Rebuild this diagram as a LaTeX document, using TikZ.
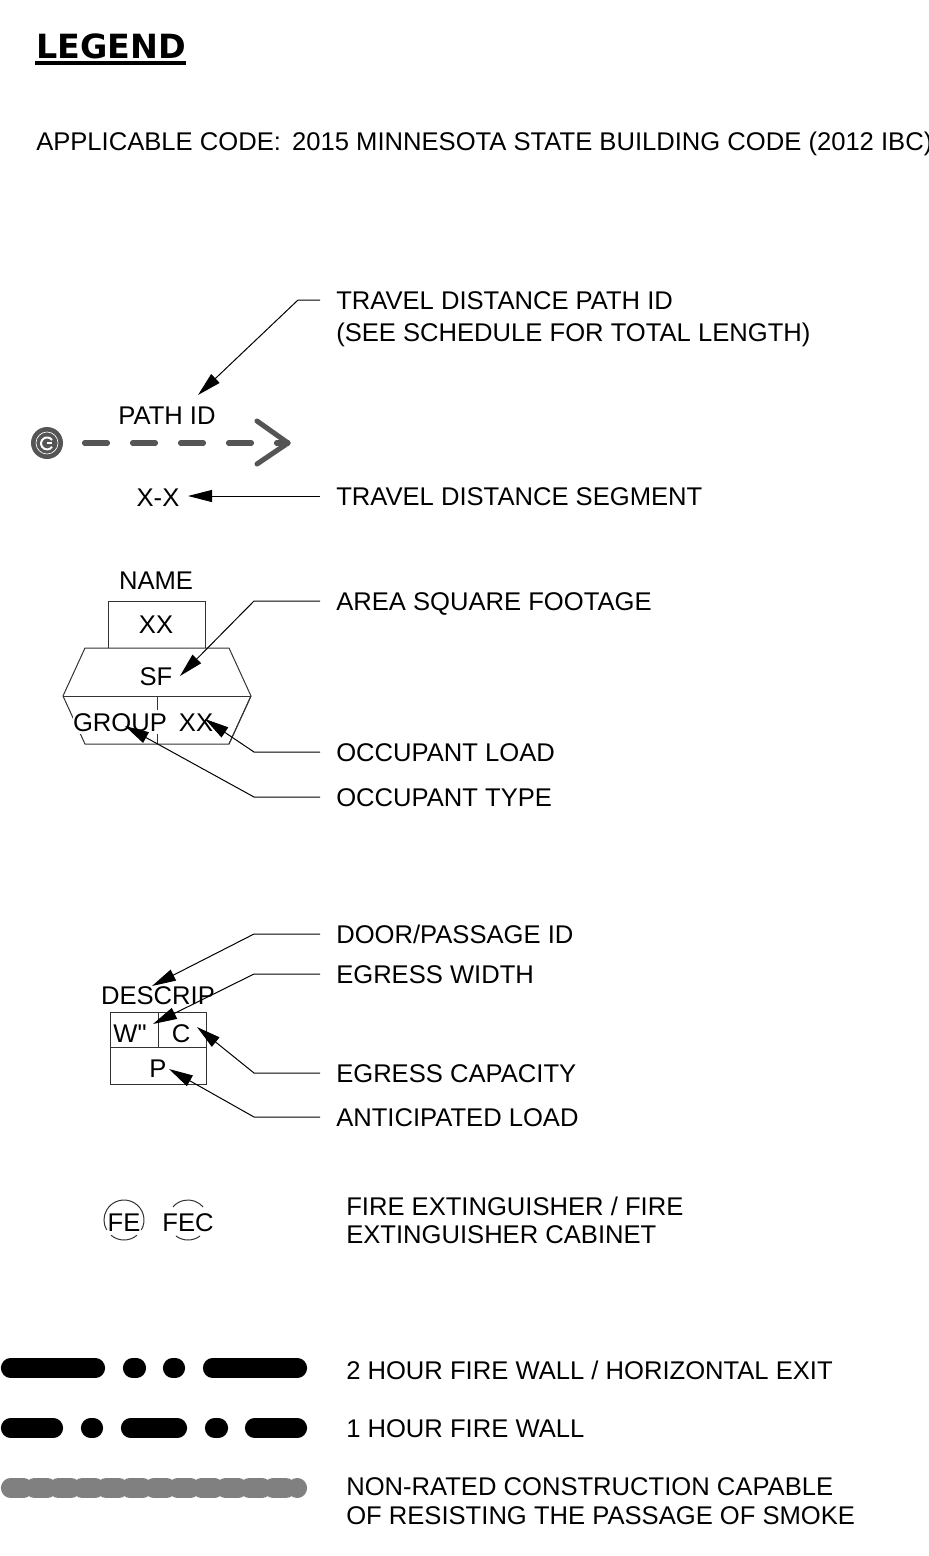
\documentclass[tikz,border=0pt]{standalone}
\usepackage{fontspec}
\newfontfamily\labelfont{Liberation Sans}
\newfontfamily\titlefont{DejaVu Sans Bold}
\usetikzlibrary{arrows.meta, positioning, calc}
\definecolor{pathgray}{HTML}{555555}
\definecolor{smokegray}{HTML}{808080}

\begin{document}
\begin{tikzpicture}[
    x=0.75pt, y=0.75pt,
    txt/.style={inner sep=0pt, text height=13.8pt, text depth=0pt, font=\labelfont\fontsize{19.2pt}{21.6pt}\selectfont},
    legendlabel/.style={txt, anchor=west, inner xsep=12pt},
    plainlabel/.style={txt, anchor=west},
    leader/.style={-{Stealth[length=18pt, width=9pt, inset=0pt]}, line width=0.75pt},
    symline/.style={line width=0.75pt, black!80},
    travelpath/.style={pathgray, line width=3.8pt, line cap=round, dash pattern=on 17.25pt off 18.75pt},
    travelhead/.style={pathgray, line width=3.8pt, line cap=round, line join=round},
    firewall/.style={line width=14.4pt, line cap=round},
    smokewall/.style={smokegray, line width=14.4pt, line cap=round, dash pattern=on 9.8pt off 8.1pt},
]
    \useasboundingbox (0,0) rectangle (928,-1556);

    % Title
    \node[anchor=west, inner sep=0pt, font=\titlefont\fontsize{25pt}{28pt}\selectfont] (legend) at (36,-46.5) {LEGEND};
    \draw[line width=3.2pt] (35,-63) -- (186,-63);
    \node[plainlabel] (code) at (36,-141) {APPLICABLE CODE:\hspace{8.4pt}2015 MINNESOTA STATE BUILDING CODE (2012 IBC)};

    % Travel distance
    \node[legendlabel] (pathlabel) at (320,-300) {TRAVEL DISTANCE PATH ID};
    \node[plainlabel] (pathnote) at (336,-332) {(SEE SCHEDULE FOR TOTAL LENGTH)};
    \node[txt] (pathid) at (167,-415) {PATH ID};
    \node[txt] (segid) at (158,-497) {X-X};
    \node[legendlabel] (seglabel) at (320,-496) {TRAVEL DISTANCE SEGMENT};
    \node[circle, fill=pathgray, minimum size=24pt, inner sep=0pt] (origin) at (47,-443) {};
    \draw[white, line width=0.5pt] (origin.center) circle[radius=11];
    \draw[white, line width=1.5pt] ($(origin.center)+(5,3)$) arc[start angle=35, end angle=325, radius=6];
    \draw[white, line width=1.5pt] (origin.center) -- ++(5,0);
    \coordinate (pathtail) at (84.5,-443);
    \coordinate (pathhead) at (288,-443);
    \draw[travelpath] (pathtail) -- (pathhead);
    \draw[travelhead] (257,-421) -- (pathhead) -- (257,-464);
    \coordinate (pathtip) at (198,-395);
    \coordinate (segtip) at (188,-496);
    \draw[leader] (pathlabel.west) -- ++(-22,0) -- (pathtip);
    \draw[leader] (seglabel.west) -- (segtip);

    % Room tag
    \node[txt] (name) at (156,-580) {NAME};
    \draw[symline] (108,-648) -- (108,-601) -- (205,-601) -- (205,-648);
    \node[txt] (roomno) at (156,-624) {XX};
    \draw[symline] (85,-648) -- (229,-648) -- (251,-696) -- (229,-744) -- (85,-744) -- (63,-696) -- cycle;
    \draw[symline] (63,-696) -- (251,-696);
    \draw[symline] (157,-696) -- (157,-744);
    \node[txt] (sf) at (156,-676) {SF};
    \node[txt, fill=white, inner ysep=2pt] (group) at (120,-722) {GROUP};
    \node[txt, fill=white] (load) at (196,-722) {XX};
    \draw[symline] (229,-744) -- (251,-696);
    \node[legendlabel] (arealabel) at (320,-601) {AREA SQUARE FOOTAGE};
    \node[legendlabel] (loadlabel) at (320,-752) {OCCUPANT LOAD};
    \node[legendlabel] (typelabel) at (320,-797) {OCCUPANT TYPE};
    \coordinate (sftip) at (180,-676);
    \coordinate (loadtip) at (205,-719);
    \coordinate (typetip) at (125,-726);
    \draw[leader] (arealabel.west) -- ++(-66,0) -- (sftip);
    \draw[leader] (loadlabel.west) -- ++(-66,0) -- (loadtip);
    \draw[leader] (typelabel.west) -- ++(-66,0) -- (typetip);

    % Door tag
    \node[txt] (descrip) at (158,-995) {DESCRIP};
    \draw[symline] (110,-1012) rectangle (206,-1084);
    \draw[symline] (110,-1047) -- (206,-1047);
    \draw[symline] (158,-1012) -- (158,-1047);
    \node[txt] (width) at (130,-1033) {W"};
    \node[txt] (capacity) at (181,-1033) {C};
    \node[txt] (anticipated) at (158,-1068) {P};
    \node[legendlabel] (doorlabel) at (320,-934) {DOOR/PASSAGE ID};
    \node[legendlabel] (widthlabel) at (320,-974) {EGRESS WIDTH};
    \node[legendlabel] (caplabel) at (320,-1073) {EGRESS CAPACITY};
    \node[legendlabel] (anticlabel) at (320,-1117) {ANTICIPATED LOAD};
    \coordinate (doortip) at (152,-986);
    \coordinate (widthtip) at (153,-1024);
    \coordinate (captip) at (197,-1027);
    \coordinate (antictip) at (169,-1069);
    \draw[leader] (doorlabel.west) -- ++(-66,0) -- (doortip);
    \draw[leader] (widthlabel.west) -- ++(-66,0) -- (widthtip);
    \draw[leader] (caplabel.west) -- ++(-66,0) -- (captip);
    \draw[leader] (anticlabel.west) -- ++(-66,0) -- (antictip);

    % Fire extinguishers
    \node[txt] (fe) at (124,-1222) {FE};
    \node[txt] (fec) at (188,-1222) {FEC};
    \draw[symline] (124,-1220) ++(-30:20) arc[start angle=-30, end angle=210, radius=20];
    \draw[symline] (124,-1220) ++(-130:20) arc[start angle=-130, end angle=-50, radius=20];
    \draw[symline] (188,-1220) ++(41:20) arc[start angle=41, end angle=139, radius=20];
    \draw[symline] (188,-1220) ++(-127:20) arc[start angle=-127, end angle=-53, radius=20];
    \node[plainlabel] (felabel) at (346,-1206) {FIRE EXTINGUISHER / FIRE};
    \node[plainlabel] (felabelb) at (346,-1234) {EXTINGUISHER CABINET};

    % Wall types
    \draw[firewall] (10.5,-1368) -- (95.5,-1368);
    \draw[firewall] (132.5,-1368) -- (136.5,-1368);
    \draw[firewall] (172.5,-1368) -- (175.5,-1368);
    \draw[firewall] (212.5,-1368) -- (297.5,-1368);
    \node[plainlabel] (twohour) at (346,-1370) {2 HOUR FIRE WALL / HORIZONTAL EXIT};

    \draw[firewall] (10.5,-1428) -- (53.5,-1428);
    \draw[firewall] (90.5,-1428) -- (93.5,-1428);
    \draw[firewall] (130.5,-1428) -- (177.5,-1428);
    \draw[firewall] (214.5,-1428) -- (218.5,-1428);
    \draw[firewall] (254.5,-1428) -- (297.5,-1428);
    \node[plainlabel] (onehour) at (346,-1428) {1 HOUR FIRE WALL};

    \draw[smokewall] (10.5,-1488) -- (297.5,-1488);
    \node[plainlabel] (smoke) at (346,-1486) {NON-RATED CONSTRUCTION CAPABLE};
    \node[plainlabel] (smokeb) at (346,-1515) {OF RESISTING THE PASSAGE OF SMOKE};
\end{tikzpicture}
\end{document}
